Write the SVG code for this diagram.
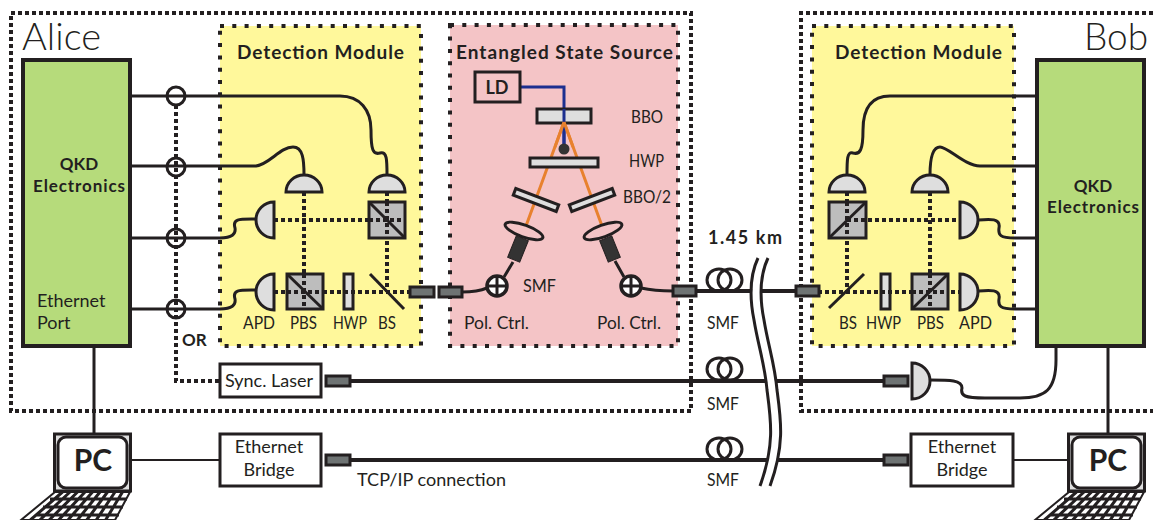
<svg xmlns="http://www.w3.org/2000/svg" xmlns:xlink="http://www.w3.org/1999/xlink" width="1153" height="520" viewBox="0 0 1153 520">
<style>
text{font-family:"Lato","Liberation Sans",sans-serif;fill:#231f20;font-size:18px}
.b{font-weight:700}
.m{text-anchor:middle}
.box{fill:#fff;stroke:#231f20;stroke-width:3}
.green{fill:#b6db7b;stroke:#231f20;stroke-width:4}
.yellow{fill:#fff89b;stroke:none}
.pink{fill:#f4c4c6;stroke:none}
.modedge{fill:none;stroke:#231f20;stroke-width:4;stroke-dasharray:4 8.3}
.outer{fill:none;stroke:#231f20;stroke-width:4;stroke-dasharray:4 3}
.wire{fill:none;stroke:#231f20;stroke-width:3}
.thin{fill:none;stroke:#231f20;stroke-width:2}
.fibre{fill:none;stroke:#231f20;stroke-width:4}
.dot{fill:none;stroke:#231f20;stroke-width:4;stroke-dasharray:4 3}
.det{fill:#dedede;stroke:#231f20;stroke-width:3}
.pbs{fill:#bdbdbd;stroke:#231f20;stroke-width:3}
.opt{fill:#dedede;stroke:#231f20;stroke-width:3}
.conn{fill:#6e7373;stroke:#231f20;stroke-width:3}
.ring{fill:none;stroke:#231f20;stroke-width:3}
</style>
<defs>
<g id="kbd">
<polygon points="55,492 130,492 115,520 21,520" fill="#fff" stroke="#231f20" stroke-width="2"/>
<path d="M50,499H127M43,507H123M36,515H119M62.500,492L30.400,520M70,492L39.800,520M77.500,492L49.200,520M85,492L58.600,520M92.500,492L68,520M100,492L77.400,520M107.500,492L86.800,520M115,492L96.200,520M122.500,492L105.600,520" fill="none" stroke="#231f20" stroke-width="3"/>
</g>
<g id="coil"><ellipse cx="719" cy="0" rx="12" ry="11" class="ring"/><ellipse cx="730" cy="0" rx="12" ry="11" class="ring"/></g>
<path id="brk" d="M763 258C755 275 754 295 759 320C763 345 770 365 772 390C776 420 780 445 765 486"/>
</defs>

<g id="alice-frame">
<path class="outer" d="M11 13H691V411H11Z"/>
<text x="22" y="50" style="font-size:38px;font-weight:300">Alice</text>
</g>
<g id="bob-frame">
<path class="outer" d="M1153 13H801V411H1153"/>
<text x="1084" y="50" style="font-size:37px;font-weight:300">Bob</text>
</g>

<g id="detection-module-alice">
<rect class="yellow" x="220" y="26" width="201" height="320"/>
<rect class="modedge" x="220" y="26" width="201" height="320"/>
<text class="b" x="237" y="59" textLength="167" style="font-size:19px">Detection Module</text>
</g>
<g id="entangled-source">
<rect class="pink" x="450" y="25" width="228" height="321"/>
<rect class="modedge" x="450" y="25" width="228" height="321"/>
<text class="b" x="456" y="59" textLength="217" style="font-size:19px">Entangled State Source</text>
</g>
<g id="detection-module-bob">
<rect class="yellow" x="812" y="26" width="202" height="320"/>
<rect class="modedge" x="812" y="26" width="202" height="320"/>
<text class="b" x="835" y="59" textLength="167" style="font-size:19px">Detection Module</text>
</g>

<g id="connectors">
<path class="dot" d="M176 105V381H220"/>
<path class="dot" d="M274 220H387M304 192V292M387 192V292M274 292H410"/>
<path class="dot" d="M847 192V292M930 192V292M847 220H960M818 292H960"/>
<path class="wire" d="M130 96H340C360 96 371 110 371 130C371 150 373 155 380 153C387 151 387 160 387 175"/>
<path class="wire" d="M130 166H256C270 164 280 147 293 147C303 147 304 160 304 175"/>
<path class="wire" d="M130 238H220C232 238 236 234 235 228C232 218 240 219 257 219"/>
<path class="wire" d="M130 309H220C232 309 236 305 235 299C232 289 240 290 257 290"/>
<path class="wire" d="M1037 96H890C870 96 863 110 863 130C863 150 860 155 853 153C847 151 847 160 847 175"/>
<path class="wire" d="M1037 166H980C965 166 948 147 940 147C932 147 930 160 930 175"/>
<path class="wire" d="M1037 238H1015C1000 238 998 235 999 228C1001 218 990 219 978 220"/>
<path class="wire" d="M1037 309H1015C1000 309 998 306 999 299C1001 289 990 290 978 291"/>
<path class="wire" d="M930 380C950 380 962 380 962 388C960 396 965 398 985 398H1020C1045 398 1056 390 1056 360V346"/>
<path class="wire" d="M94 346V434M1108 346V433"/>
<path class="thin" d="M130 460H220M1013 460H1068"/>
<path class="fibre" d="M350 381H884M350 460H884M696 291H795"/>
<path class="wire" d="M462 292C472 292 480 291 487 288M641 288C650 290 660 291 673 291"/>
<path class="wire" d="M513 262L504 277M615 261L624 277"/>
<path d="M520 87H564V150" fill="none" stroke="#1c2f8f" stroke-width="3"/>
<path d="M526 226L564 122L602 226" fill="none" stroke="#e8812e" stroke-width="3"/>
</g>

<g id="fibre-break">
<use xlink:href="#brk" href="#brk" fill="none" stroke="#fff" stroke-width="8"/>
<use xlink:href="#brk" href="#brk" fill="none" stroke="#231f20" stroke-width="3" x="-5"/>
<use xlink:href="#brk" href="#brk" fill="none" stroke="#231f20" stroke-width="3" x="5"/>
</g>

<g id="qkd-alice">
<rect class="green" x="23" y="60" width="107" height="286"/>
<text class="b m" x="79" y="170" style="font-size:17px">QKD</text>
<text class="b m" x="79" y="192" textLength="92" style="font-size:17px">Electronics</text>
<text x="37" y="307">Ethernet</text>
<text x="37" y="329">Port</text>
</g>
<g id="qkd-bob">
<rect class="green" x="1037" y="60" width="107" height="286"/>
<text class="b m" x="1093" y="192" style="font-size:17px">QKD</text>
<text class="b m" x="1093" y="213" textLength="92" style="font-size:17px">Electronics</text>
</g>

<g id="switches">
<circle class="ring" cx="176" cy="96" r="9"/>
<circle class="ring" cx="176" cy="167" r="9"/>
<circle class="ring" cx="176" cy="238" r="9"/>
<circle class="ring" cx="176" cy="309" r="9"/>
<text class="b" x="182" y="346" style="font-size:17px">OR</text>
</g>

<g id="alice-optics">
<path class="det" d="M286 192A18 17 0 0 1 322 192Z"/>
<path class="det" d="M369 192A18 17 0 0 1 405 192Z"/>
<path class="det" d="M274 202A18 18 0 0 0 274 238Z"/>
<path class="det" d="M274 274A18 18 0 0 0 274 310Z"/>
<rect class="pbs" x="369" y="202" width="36" height="36"/><path class="wire" d="M369 202L405 238"/>
<rect class="pbs" x="287" y="274" width="36" height="35"/><path class="wire" d="M287 274L323 309"/>
<rect class="opt" x="344" y="274" width="9" height="35"/>
<path class="wire" d="M370 274L404 309"/>
<path class="dot" d="M387 202V238M304 274V309M369 220H405M287 292H323M344 292H353"/>
<text x="243" y="329" textLength="32" lengthAdjust="spacingAndGlyphs">APD</text><text x="290" y="329" textLength="27" lengthAdjust="spacingAndGlyphs">PBS</text><text x="333" y="329" textLength="34" lengthAdjust="spacingAndGlyphs">HWP</text><text x="378" y="329" textLength="18" lengthAdjust="spacingAndGlyphs">BS</text>
</g>

<g id="bob-optics">
<path class="det" d="M829 192A18 17 0 0 1 865 192Z"/>
<path class="det" d="M912 192A18 17 0 0 1 948 192Z"/>
<path class="det" d="M960 202A18 18 0 0 1 960 238Z"/>
<path class="det" d="M960 274A18 18 0 0 1 960 310Z"/>
<rect class="pbs" x="829" y="202" width="37" height="36"/><path class="wire" d="M829 238L866 202"/>
<rect class="pbs" x="912" y="274" width="36" height="35"/><path class="wire" d="M912 309L948 274"/>
<rect class="opt" x="881" y="274" width="9" height="35"/>
<path class="wire" d="M829 308L864 274"/>
<path class="dot" d="M847 202V238M930 274V309M847 220H866M912 292H948M881 292H890"/>
<text x="839" y="329" textLength="18" lengthAdjust="spacingAndGlyphs">BS</text><text x="866" y="329" textLength="35" lengthAdjust="spacingAndGlyphs">HWP</text><text x="917" y="329" textLength="27" lengthAdjust="spacingAndGlyphs">PBS</text><text x="959" y="329" textLength="33" lengthAdjust="spacingAndGlyphs">APD</text>
</g>

<g id="source-optics">
<rect class="box" x="475" y="72" width="45" height="30" style="fill:#f4c4c6"/>
<text class="b m" x="497" y="94" style="font-size:18px">LD</text>
<rect class="opt" x="537" y="109" width="54" height="14"/>
<path d="M564 109V150" stroke="#1c2f8f" stroke-width="3"/>
<path d="M564 122L555 147M564 122L573 147" stroke="#e8812e" stroke-width="3"/>
<circle cx="564" cy="149" r="5.500" fill="#333"/>
<rect class="opt" x="530" y="158" width="68" height="9"/>
<rect class="opt" x="-23" y="-3.500" width="46" height="7" transform="translate(536 200) rotate(21)"/>
<rect class="opt" x="-23" y="-3.500" width="46" height="7" transform="translate(592 200) rotate(-21)"/>
<ellipse cx="0" cy="0" rx="20" ry="6" transform="translate(524 231) rotate(20)" fill="#f4c4c6" stroke="#231f20" stroke-width="3"/>
<ellipse cx="0" cy="0" rx="20" ry="6" transform="translate(603 231) rotate(-20)" fill="#f4c4c6" stroke="#231f20" stroke-width="3"/>
<rect x="-6.500" y="-11.500" width="13" height="23" fill="#333" stroke="#231f20" transform="translate(518 249) rotate(22)"/>
<rect x="-6.500" y="-11.500" width="13" height="23" fill="#333" stroke="#231f20" transform="translate(610 249) rotate(-22)"/>
<g id="pol-left"><circle cx="497" cy="286" r="10" fill="#fff" stroke="#231f20" stroke-width="3.500"/><path d="M487 286H507M497 276V296" stroke="#231f20" stroke-width="3"/></g>
<g id="pol-right"><circle cx="631" cy="286" r="10" fill="#fff" stroke="#231f20" stroke-width="3.500"/><path d="M621 286H641M631 276V296" stroke="#231f20" stroke-width="3"/></g>
<text x="631" y="123" textLength="32" lengthAdjust="spacingAndGlyphs">BBO</text><text x="629" y="167" textLength="35" lengthAdjust="spacingAndGlyphs">HWP</text><text x="623" y="203" textLength="48" lengthAdjust="spacingAndGlyphs">BBO/2</text><text x="523" y="292" textLength="33" lengthAdjust="spacingAndGlyphs">SMF</text>
<text x="464" y="329" textLength="65" lengthAdjust="spacingAndGlyphs">Pol. Ctrl.</text><text x="597" y="329" textLength="64" lengthAdjust="spacingAndGlyphs">Pol. Ctrl.</text>
</g>

<g id="fibre-couplers">
<rect class="conn" x="410" y="287" width="24" height="10"/>
<rect class="conn" x="439" y="287" width="23" height="10"/>
<rect class="conn" x="673" y="286" width="23" height="10"/>
<rect class="conn" x="796" y="286" width="23" height="10"/>
<rect class="conn" x="326" y="376" width="24" height="10"/>
<rect class="conn" x="884" y="376" width="24" height="10"/>
<rect class="conn" x="326" y="455" width="24" height="10"/>
<rect class="conn" x="884" y="455" width="24" height="10"/>
</g>

<g id="smf-spools">
<use xlink:href="#coil" href="#coil" y="280"/>
<use xlink:href="#coil" href="#coil" y="369"/>
<use xlink:href="#coil" href="#coil" y="449"/>
<text x="707" y="329" textLength="32" lengthAdjust="spacingAndGlyphs">SMF</text><text x="707" y="410" textLength="32" lengthAdjust="spacingAndGlyphs">SMF</text><text x="707" y="486" textLength="32" lengthAdjust="spacingAndGlyphs">SMF</text>
<text class="b" x="708" y="244" textLength="74" style="font-size:18px">1.45 km</text>
</g>

<g id="sync-laser">
<rect class="box" x="220" y="364" width="101" height="33"/>
<text class="m" x="269" y="387">Sync. Laser</text>
</g>
<g id="sync-detector">
<path class="det" d="M912 363A18 18 0 0 1 912 399Z"/>
</g>
<g id="bridge-alice">
<rect class="box" x="220" y="434" width="101" height="52"/>
<text class="m" x="269" y="453">Ethernet</text><text class="m" x="269" y="476">Bridge</text>
</g>
<g id="bridge-bob">
<rect class="box" x="911" y="434" width="102" height="52"/>
<text class="m" x="962" y="453">Ethernet</text><text class="m" x="962" y="476">Bridge</text>
</g>
<text x="357" y="486" textLength="149">TCP/IP connection</text>

<g id="pc-alice">
<rect x="54.500" y="434" width="76" height="57" fill="#dedede" stroke="#231f20" stroke-width="3"/>
<rect x="58" y="437" width="69" height="51" rx="8" fill="#fff" stroke="#231f20" stroke-width="3"/>
<use xlink:href="#kbd" href="#kbd"/>
<text class="b m" x="93" y="471" style="font-size:30px">PC</text>
</g>
<g id="pc-bob">
<rect x="1068.500" y="434" width="76" height="57" fill="#dedede" stroke="#231f20" stroke-width="3"/>
<rect x="1072" y="437" width="69" height="51" rx="8" fill="#fff" stroke="#231f20" stroke-width="3"/>
<use xlink:href="#kbd" href="#kbd" x="1014"/>
<text class="b m" x="1108" y="471" style="font-size:30px">PC</text>
</g>
</svg>
